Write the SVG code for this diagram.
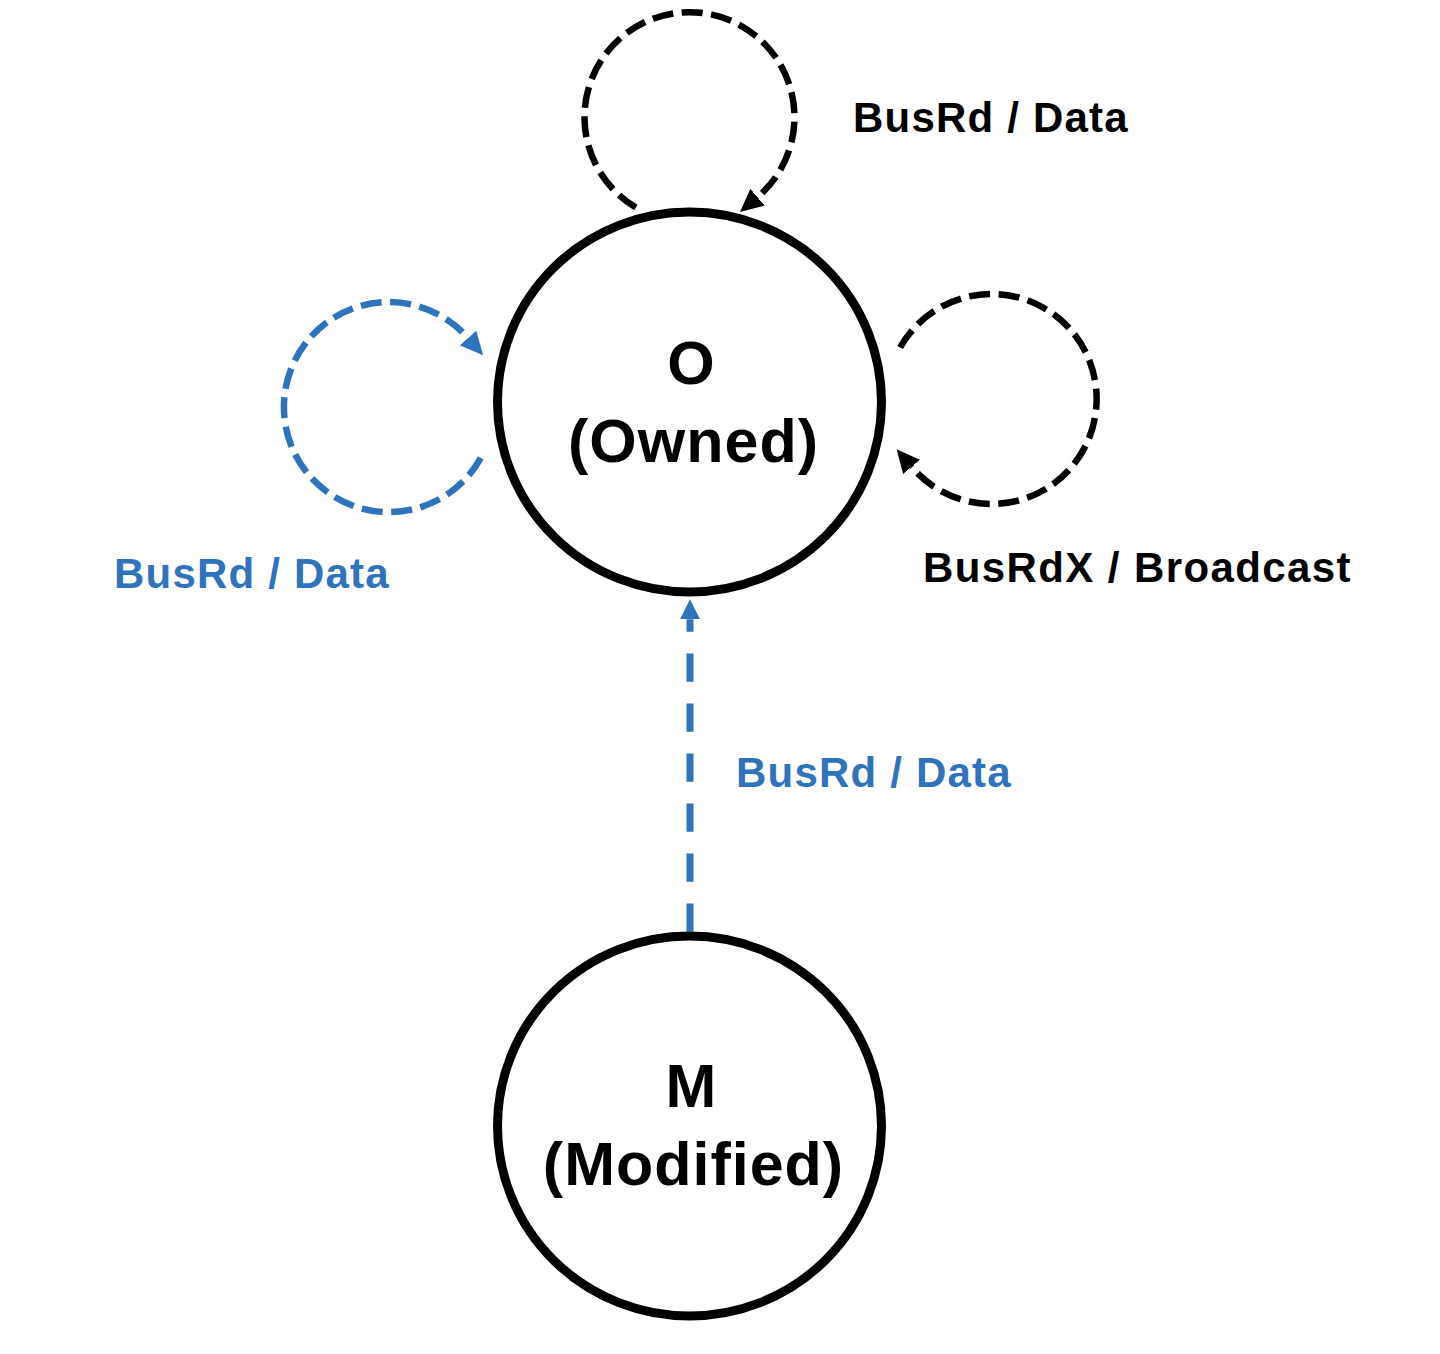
<svg xmlns="http://www.w3.org/2000/svg" width="1440" height="1354" viewBox="0 0 1440 1354">
  <style>
    .state { fill: #ffffff; stroke: #000000; stroke-width: 9; }
    .stateText { font-family: "Liberation Sans", Arial, sans-serif; font-weight: bold; font-size: 61px; letter-spacing: 1px; fill: #000000; text-anchor: middle; }
    .lbl { font-family: "Liberation Sans", Arial, sans-serif; font-weight: bold; font-size: 42px; letter-spacing: 1.2px; }
    .blk { fill: #000000; }
    .blu { fill: #2F73BC; }
    .loopK { fill: none; stroke: #000000; stroke-width: 6.5; stroke-dasharray: 21 8.5; }
    .loopB { fill: none; stroke: #2F73BC; stroke-width: 6.5; stroke-dasharray: 21 8.5; }
    .lineB { fill: none; stroke: #2F73BC; stroke-width: 7; stroke-dasharray: 28.3 21.7; }
  </style>
  <defs>
    <marker id="ahK" viewBox="0 -12 26 24" markerWidth="26" markerHeight="24" refX="0" refY="0" orient="auto" markerUnits="userSpaceOnUse">
      <path d="M0,-11 L23,0 L0,11 Z" fill="#000000"/>
    </marker>
    <marker id="ahB" viewBox="0 -12 26 24" markerWidth="26" markerHeight="24" refX="0" refY="0" orient="auto" markerUnits="userSpaceOnUse">
      <path d="M0,-11 L23,0 L0,11 Z" fill="#2F73BC"/>
    </marker>
    <marker id="ahV" viewBox="0 -12 26 24" markerWidth="26" markerHeight="24" refX="0" refY="0" orient="auto" markerUnits="userSpaceOnUse">
      <path d="M0,-10 L20,0 L0,10 Z" fill="#2F73BC"/>
    </marker>
  </defs>
  <rect width="1440" height="1354" fill="#ffffff"/>

  <g id="connectors">
    <!-- O self-loop top: BusRd / Data -->
    <path class="loopK" d="M635.9,207.5 A105,105 0 1 1 757.5,197.2" marker-end="url(#ahK)"/>
    <!-- O self-loop left (blue): BusRd / Data -->
    <path class="loopB" d="M480.8,457.9 A105,105 0 1 1 468,338" marker-end="url(#ahB)"/>
    <!-- O self-loop right: BusRdX / Broadcast -->
    <path class="loopK" d="M900.1,347.5 A105,105 0 1 1 911.5,466.8" marker-end="url(#ahK)"/>
    <!-- M to O (blue) -->
    <path class="lineB" d="M690,931.7 L690,619.3" marker-end="url(#ahV)"/>
  </g>

  <g id="node-O">
    <ellipse class="state" cx="689.5" cy="402" rx="192" ry="190"/>
    <text class="stateText" x="691.5" y="384">O</text>
    <text class="stateText" x="693.5" y="462">(Owned)</text>
  </g>

  <g id="node-M">
    <ellipse class="state" cx="689.5" cy="1126" rx="192" ry="190"/>
    <text class="stateText" x="691.5" y="1107">M</text>
    <text class="stateText" x="693.5" y="1185">(Modified)</text>
  </g>

  <g id="labels">
    <text class="lbl blk" x="853" y="132">BusRd / Data</text>
    <text class="lbl blu" x="114" y="588">BusRd / Data</text>
    <text class="lbl blk" x="923" y="582" style="letter-spacing:1.4px">BusRdX / Broadcast</text>
    <text class="lbl blu" x="736" y="787">BusRd / Data</text>
  </g>
</svg>
